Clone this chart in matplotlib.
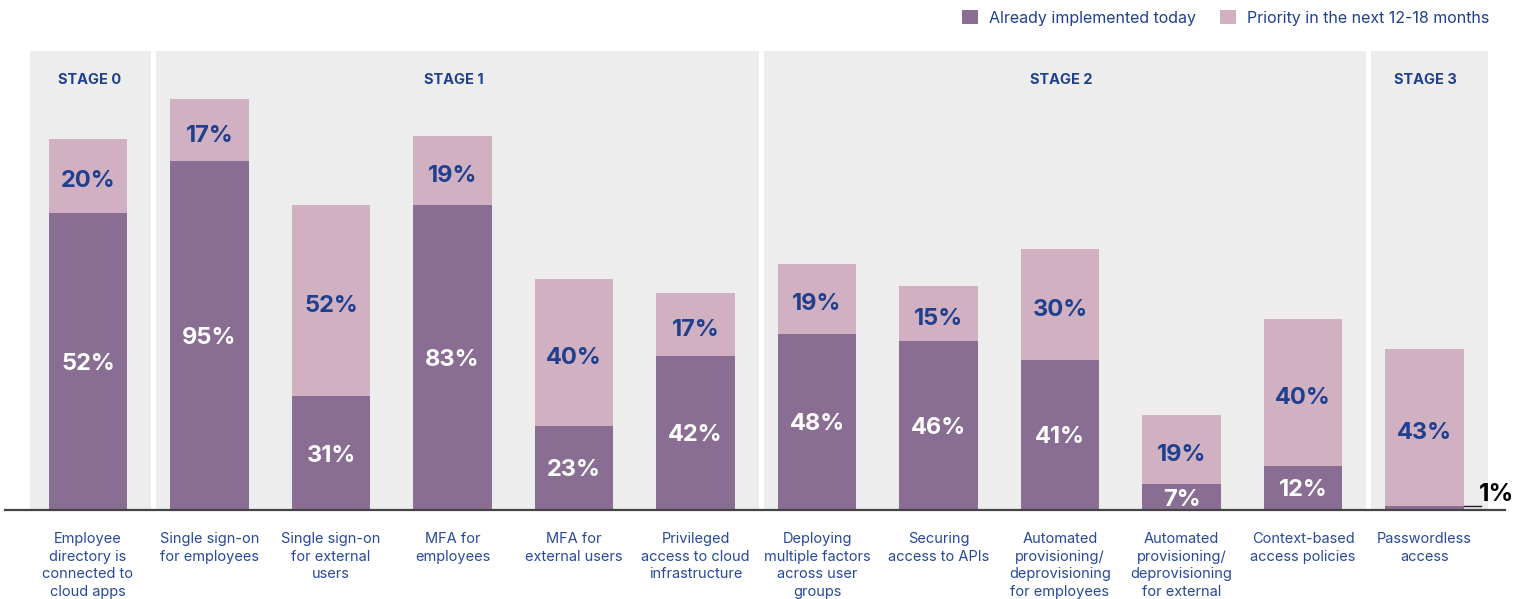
import numpy as np
import matplotlib
matplotlib.use('Agg')
import matplotlib.pyplot as plt
from matplotlib.patches import Rectangle, Patch

plt.rcParams['font.family'] = ['Inter', 'DejaVu Sans']

#Data
categories = ['Employee\ndirectory is\nconnected to\ncloud apps',
              'Single sign-on\nfor employees',
              'Single sign-on\nfor external\nusers',
              'MFA for\nemployees',
              'MFA for\nexternal users',
              'Privileged\naccess to cloud\ninfrastructure',
              'Deploying\nmultiple factors\nacross user\ngroups',
              'Securing\naccess to APIs',
              'Automated\nprovisioning/\ndeprovisioning\nfor employees',
              'Automated\nprovisioning/\ndeprovisioning\nfor external\nusers',
              'Context-based\naccess policies',
              'Passwordless\naccess']
implemented = [52, 95, 31, 83, 23, 42, 48, 46, 41, 7, 12, 1]
#Source draws the first purple bar taller than its 52% label
implemented_drawn = [81, 95, 31, 83, 23, 42, 48, 46, 41, 7, 12, 1]
priority = [20, 17, 52, 19, 40, 17, 19, 15, 30, 19, 40, 43]
stages = ['STAGE 0', 'STAGE 1', 'STAGE 2', 'STAGE 3']
stage_span = [(0, 0), (1, 5), (6, 10), (11, 11)]
series_names = ['Already implemented today', 'Priority in the next 12-18 months']

c_impl = '#8a6d93'
c_prio = '#d1b1c1'
c_bg = '#ededed'
c_text = '#1f3f8f'
c_cat = '#28489a'

W, H = 1530, 599
fig = plt.figure(figsize=(W/100, H/100), dpi=100)
ax = fig.add_axes([0, 89/H, 1, 510/H])
ppu = 3.67  #pixels per percent
ax.set_ylim(0, 510/ppu)
ax.set_xlim(-88/121.5, (W-88)/121.5)
ax.axis('off')

x = np.arange(len(categories))
bw = 0.65

#Stage panels
for k, (name, (a, b)) in enumerate(zip(stages, stage_span)):
    lpad = 0.475 if k == 0 else 0.44
    rpad = 0.52
    ax.add_patch(Rectangle((a - lpad, 0), (b + rpad) - (a - lpad), 125,
                           facecolor=c_bg, edgecolor='none', zorder=0))
    ax.text((a + b)/2 + 0.01, 117.5, name, ha='center', va='center_baseline',
            fontsize=10.5, fontweight='bold', color=c_text)

ax.bar(x, implemented_drawn, width=bw, color=c_impl, zorder=2)
ax.bar(x, priority, width=bw, bottom=implemented_drawn, color=c_prio, zorder=2)

for i in x:
    h0 = implemented_drawn[i]
    if implemented[i] > 1:
        ax.text(i, h0/2, '%i%%' % implemented[i], ha='center', va='center_baseline',
                fontsize=17, fontweight='bold', color='white', zorder=3)
    ax.text(i, h0 + priority[i]/2 - 0.8, '%i%%' % priority[i], ha='center',
            va='center_baseline', fontsize=17, fontweight='bold', color=c_text, zorder=3)
    ax.text(i, -6.0, categories[i], ha='center', va='top', fontsize=10.5,
            color=c_cat, linespacing=1.33, clip_on=False)

#Small value called out to the side
last = len(categories) - 1
ax.plot([last + bw/2, last + bw/2 + 0.14], [1.1, 1.1], color='#222222', lw=1, zorder=3)
ax.text(last + bw/2 + 0.12, 1.2, '%i%%' % implemented[last], ha='left', va='bottom',
        fontsize=17.5, fontweight='bold', color='black', zorder=3)

#Baseline
ax.plot([-0.68, 11.66], [0, 0], color='#444444', lw=1.6, zorder=4, clip_on=False)

handles = [Patch(facecolor=c_impl), Patch(facecolor=c_prio)]
leg = fig.legend(handles, series_names, loc='upper right', ncol=2, frameon=False,
                 bbox_to_anchor=(1489/W, 1 - 10/H), borderpad=0, borderaxespad=0,
                 handlelength=1, handleheight=1, handletextpad=0.65,
                 columnspacing=1.55, fontsize=11.5)
for t in leg.get_texts():
    t.set_color(c_text)

fig.savefig('out.png', dpi=100)
